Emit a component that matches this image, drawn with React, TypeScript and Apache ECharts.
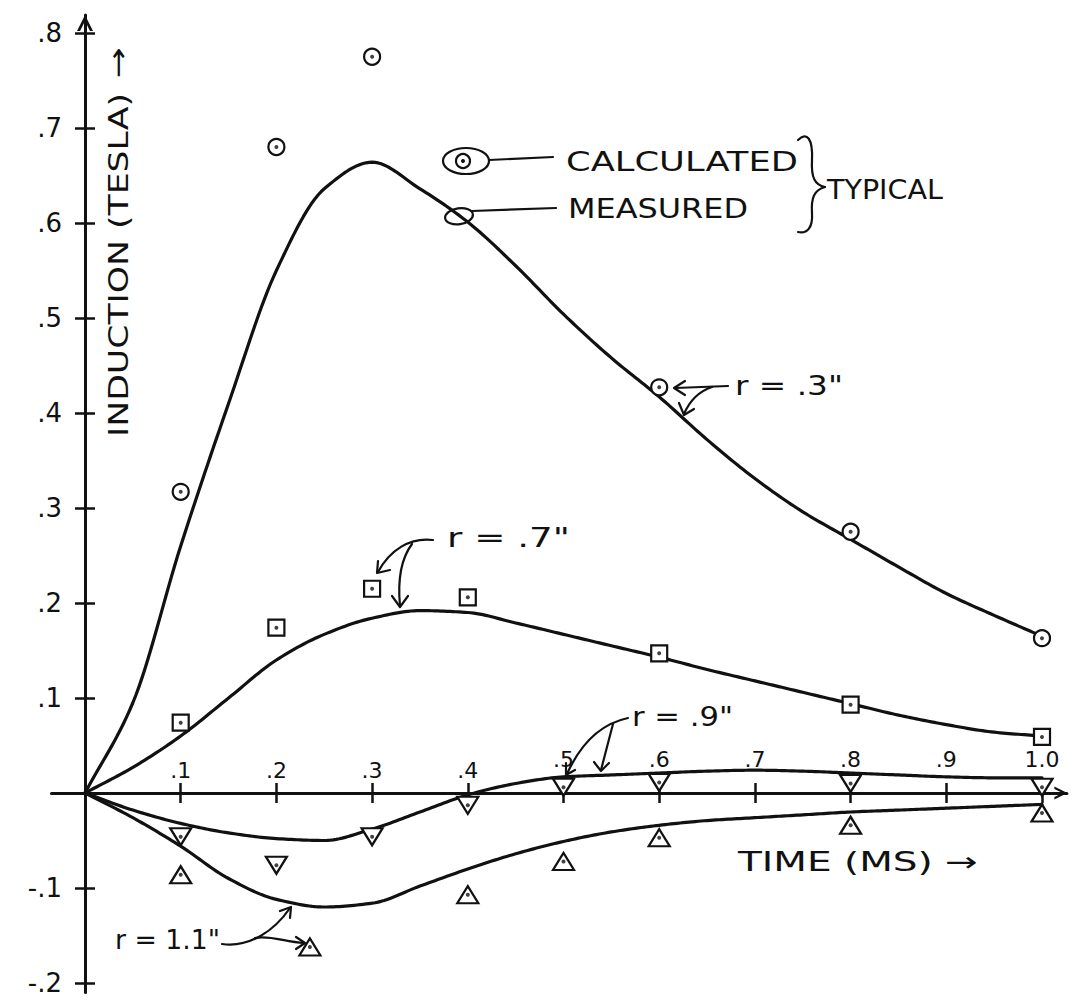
import React, { useEffect, useRef } from "react";
import * as echarts from "echarts";

// ---------- data ----------
const xTickValues = [0.1, 0.2, 0.3, 0.4, 0.5, 0.6, 0.7, 0.8, 0.9, 1.0];
const yTickValues = [-0.2, -0.1, 0.1, 0.2, 0.3, 0.4, 0.5, 0.6, 0.7, 0.8];

// measured curves (time ms, induction tesla), read every 0.05 ms
const measuredR03 = [
  [0, 0], [0.05, 0.095], [0.1, 0.26], [0.15, 0.41], [0.2, 0.55], [0.25, 0.636],
  [0.3, 0.664], [0.35, 0.636], [0.4, 0.601], [0.45, 0.555], [0.5, 0.504], [0.55, 0.458],
  [0.6, 0.417], [0.65, 0.372], [0.7, 0.331], [0.75, 0.296], [0.8, 0.267], [0.85, 0.238],
  [0.9, 0.21], [0.95, 0.187], [1.0, 0.165],
];
const measuredR07 = [
  [0, 0], [0.05, 0.027], [0.1, 0.06], [0.15, 0.1], [0.2, 0.14], [0.25, 0.167],
  [0.3, 0.184], [0.35, 0.192], [0.4, 0.19], [0.45, 0.179], [0.5, 0.167], [0.55, 0.155],
  [0.6, 0.143], [0.65, 0.13], [0.7, 0.118], [0.75, 0.106], [0.8, 0.094], [0.85, 0.082],
  [0.9, 0.072], [0.95, 0.064], [1.0, 0.06],
];
const measuredR09 = [
  [0, 0], [0.05, -0.018], [0.1, -0.032], [0.15, -0.042], [0.2, -0.048], [0.25, -0.05],
  [0.3, -0.038], [0.35, -0.02], [0.4, -0.002], [0.45, 0.01], [0.5, 0.017], [0.55, 0.019],
  [0.6, 0.021], [0.65, 0.023], [0.7, 0.024], [0.75, 0.023], [0.8, 0.021], [0.85, 0.019],
  [0.9, 0.017], [0.95, 0.016], [1.0, 0.016],
];
const measuredR11 = [
  [0, 0], [0.05, -0.026], [0.1, -0.056], [0.15, -0.09], [0.2, -0.112], [0.25, -0.12],
  [0.3, -0.116], [0.35, -0.098], [0.4, -0.08], [0.45, -0.064], [0.5, -0.051], [0.55, -0.041],
  [0.6, -0.034], [0.65, -0.029], [0.7, -0.026], [0.75, -0.023], [0.8, -0.02], [0.85, -0.018],
  [0.9, -0.016], [0.95, -0.014], [1.0, -0.012],
];

// calculated points
const calcR03 = [[0.1, 0.317], [0.2, 0.68], [0.3, 0.775], [0.6, 0.427], [0.8, 0.275], [1.0, 0.163]];
const calcR07 = [[0.1, 0.074], [0.2, 0.174], [0.3, 0.215], [0.4, 0.206], [0.6, 0.147], [0.8, 0.093], [1.0, 0.059]];
const calcR09 = [[0.1, -0.046], [0.2, -0.076], [0.3, -0.046], [0.4, -0.013], [0.5, 0.006], [0.6, 0.011], [0.8, 0.01], [1.0, 0.006]];
const calcR11 = [[0.1, -0.086], [0.235, -0.162], [0.4, -0.107], [0.5, -0.072], [0.6, -0.047], [0.8, -0.034], [1.0, -0.021]];

// ---------- layout ----------
const W = 1075;
const H = 1004;
const X0 = 85; // pixel of time 0
const XS = 957; // px per ms
const Y0 = 793; // pixel of induction 0
const YS = 950; // px per tesla
const X_MIN = -0.035;
const X_MAX = 1.026;
const Y_MIN = -0.21;
const Y_MAX = 0.819;
const gridLeft = X0 + X_MIN * XS;
const gridRight = W - (X0 + X_MAX * XS);
const gridTop = Y0 - Y_MAX * YS;
const gridBottom = H - (Y0 - Y_MIN * YS);

const FONT = "DejaVu Sans";
const INK = "#111";

const CHEVRON = "path://M0,20L10,0L20,20L16.2,20L10,7.5L3.8,20Z";

function fmtTick(v: number) {
  const s = Math.round(v * 10);
  if (s === 10) return "1.0";
  return (s < 0 ? "-" : "") + "." + Math.abs(s);
}

let measureCtx: CanvasRenderingContext2D | null = null;
function measure(text: string, size: number) {
  if (!measureCtx) measureCtx = document.createElement("canvas").getContext("2d");
  if (!measureCtx) return text.length * size * 0.6;
  measureCtx.font = `${size}px "${FONT}"`;
  return measureCtx.measureText(text).width;
}

function fitText(text: string, left: number, right: number, cy: number, size: number) {
  const w = measure(text, size);
  return {
    type: "text",
    x: left,
    y: cy,
    scaleX: (right - left) / w,
    silent: true,
    style: { text, fill: INK, fontSize: size, fontFamily: FONT, textAlign: "left", textVerticalAlign: "middle" },
  };
}

function fitTextUp(text: string, bottom: number, top: number, cx: number, size: number) {
  const w = measure(text, size);
  return {
    type: "text",
    x: cx,
    y: bottom,
    rotation: Math.PI / 2,
    scaleX: (bottom - top) / w,
    silent: true,
    style: { text, fill: INK, fontSize: size, fontFamily: FONT, textAlign: "left", textVerticalAlign: "middle" },
  };
}

const stroke = { stroke: INK, lineWidth: 2.2, fill: "none", lineCap: "round", lineJoin: "round" };

function line(x1: number, y1: number, x2: number, y2: number) {
  return { type: "line", silent: true, shape: { x1, y1, x2, y2 }, style: { ...stroke } };
}
function poly(points: number[][]) {
  return { type: "polyline", silent: true, shape: { points }, style: { ...stroke } };
}
function bez(x1: number, y1: number, cpx1: number, cpy1: number, cpx2: number, cpy2: number, x2: number, y2: number) {
  return { type: "bezierCurve", silent: true, shape: { x1, y1, cpx1, cpy1, cpx2, cpy2, x2, y2 }, style: { ...stroke } };
}

function buildGraphics() {
  const g: any[] = [];
  // axis titles
  g.push(fitTextUp("INDUCTION (TESLA)", 437, 93, 118, 27));
  g.push(fitTextUp("→", 78, 47, 118, 27));
  g.push(fitText("TIME (MS) →", 738, 978, 862, 27));

  // legend
  g.push({ type: "ellipse", silent: true, shape: { cx: 466, cy: 161, rx: 23, ry: 13 }, style: { ...stroke } });
  g.push({ type: "circle", silent: true, shape: { cx: 463, cy: 161, r: 7 }, style: { ...stroke } });
  g.push({ type: "circle", silent: true, shape: { cx: 463, cy: 161, r: 2 }, style: { fill: INK } });
  g.push(line(489, 160, 553, 157));
  g.push(fitText("CALCULATED", 566, 798, 162, 27));

  g.push({ type: "ellipse", silent: true, shape: { cx: 459, cy: 216, rx: 14, ry: 8 }, rotation: 0.15, originX: 459, originY: 216, style: { ...stroke } });
  g.push(line(472, 211, 556, 208));
  g.push(fitText("MEASURED", 568, 748, 209, 27));

  // brace
  g.push(bez(798, 140, 807, 131, 813, 139, 812, 160));
  g.push(bez(812, 160, 811, 178, 815, 185, 825, 187));
  g.push(bez(825, 187, 814, 190, 811, 198, 812, 213));
  g.push(bez(812, 213, 813, 228, 807, 234, 798, 232));
  g.push(fitText("TYPICAL", 827, 943, 190, 27));

  // r = .3"
  g.push(fitText('r = .3"', 735, 843, 386, 26));
  g.push(line(728, 386, 675, 388));
  g.push(poly([[685, 381], [674, 388], [685, 395]]));
  g.push(bez(712, 387, 700, 391, 690, 400, 684, 414));
  g.push(poly([[679, 403], [684, 415], [694, 409]]));

  // r = .7"
  g.push(fitText('r = .7"', 447, 570, 538, 26));
  g.push(bez(433, 540, 410, 537, 390, 550, 378, 572));
  g.push(poly([[378, 561], [377, 573], [390, 570]]));
  g.push(bez(412, 544, 400, 560, 398, 585, 400, 606));
  g.push(poly([[392, 596], [400, 607], [408, 596]]));

  // r = .9"
  g.push(fitText('r = .9"', 632, 733, 717, 26));
  g.push(bez(628, 718, 600, 724, 580, 745, 567, 774));
  g.push(poly([[566, 763], [566, 775], [575, 770]]));
  g.push(line(613, 724, 601, 770));
  g.push(poly([[594, 762], [601, 771], [609, 763]]));

  // r = 1.1"
  g.push(fitText('r = 1.1"', 115, 220, 940, 26));
  g.push(bez(222, 944, 250, 948, 275, 930, 290, 908));
  g.push(poly([[280, 911], [291, 907], [290, 918]]));
  g.push(bez(255, 938, 270, 935, 285, 942, 304, 943));
  g.push(poly([[296, 937], [305, 943], [296, 949]]));
  return g;
}

// monotone cubic (Fritsch-Carlson) rendering of a measured curve, sampled for drawing
function monotoneSample(pts: number[][], steps = 16) {
  const n = pts.length;
  const dx: number[] = [];
  const m: number[] = [];
  for (let i = 0; i < n - 1; i++) {
    dx[i] = pts[i + 1][0] - pts[i][0];
    m[i] = (pts[i + 1][1] - pts[i][1]) / dx[i];
  }
  const t: number[] = new Array(n);
  t[0] = m[0];
  t[n - 1] = m[n - 2];
  for (let i = 1; i < n - 1; i++) {
    if (m[i - 1] * m[i] <= 0) t[i] = 0;
    else {
      const w1 = 2 * dx[i] + dx[i - 1];
      const w2 = dx[i] + 2 * dx[i - 1];
      t[i] = (w1 + w2) / (w1 / m[i - 1] + w2 / m[i]);
    }
  }
  const out: number[][] = [];
  for (let i = 0; i < n - 1; i++) {
    const [x0, y0] = pts[i];
    const y1 = pts[i + 1][1];
    const h = dx[i];
    for (let s = 0; s < steps; s++) {
      const u = s / steps;
      const u2 = u * u;
      const u3 = u2 * u;
      const h00 = 2 * u3 - 3 * u2 + 1;
      const h10 = u3 - 2 * u2 + u;
      const h01 = -2 * u3 + 3 * u2;
      const h11 = u3 - u2;
      out.push([x0 + u * h, h00 * y0 + h10 * h * t[i] + h01 * y1 + h11 * h * t[i + 1]]);
    }
  }
  out.push(pts[n - 1]);
  return out;
}

function curveSeries(data: number[][]) {
  return {
    type: "custom",
    data,
    encode: { x: 0, y: 1 },
    z: 3,
    silent: true,
    clip: false,
    renderItem: (params: any, api: any) => {
      if (params.dataIndex !== 0) return null;
      const points = monotoneSample(data).map((p) => api.coord(p));
      return {
        type: "polyline",
        shape: { points },
        style: { stroke: INK, lineWidth: 3.2, fill: "none", lineJoin: "round", lineCap: "round" },
      };
    },
  };
}

function markerSeries(data: number[][], symbol: string, size: any, rotate = 0) {
  return {
    type: "scatter",
    data,
    symbol,
    symbolSize: size,
    symbolRotate: rotate,
    itemStyle: { color: "#fff", borderColor: INK, borderWidth: 2.2, opacity: 1 },
    z: 5,
    silent: true,
  };
}

export default function App() {
  const ref = useRef<HTMLDivElement>(null);
  useEffect(() => {
    if (!ref.current) return;
    const chart = echarts.init(ref.current, undefined, { renderer: "svg" });
    const allMarkers = [...calcR03, ...calcR07, ...calcR09, ...calcR11];
    const tickStyle = { show: true, length: 10, lineStyle: { color: INK, width: 2.5 }, customValues: xTickValues };
    const yTickStyle = { show: true, length: 10, lineStyle: { color: INK, width: 2.5 }, customValues: yTickValues };
    const xLabelText = { fontSize: 22, fontFamily: FONT, color: INK };
    chart.setOption({
      animation: false,
      backgroundColor: "#fff",
      grid: {
        left: gridLeft,
        right: gridRight,
        top: gridTop,
        bottom: gridBottom,
        containLabel: false,
        outerBoundsMode: "none",
      },
      xAxis: [
        {
          type: "value",
          min: X_MIN,
          max: X_MAX,
          position: "bottom",
          offset: Y_MIN * YS,
          axisLine: {
            show: true,
            onZero: false,
            lineStyle: { color: INK, width: 3 },
            symbol: ["none", CHEVRON],
            symbolSize: [14, 13],
            symbolOffset: [0, -6],
          },
          axisTick: tickStyle,
          axisLabel: { show: false },
          splitLine: { show: false },
        },
        {
          type: "value",
          min: X_MIN,
          max: X_MAX,
          position: "top",
          offset: -Y_MAX * YS,
          axisLine: { show: false, onZero: false },
          axisTick: tickStyle,
          axisLabel: {
            show: true,
            margin: 12,
            color: INK,
            fontSize: 22,
            fontFamily: FONT,
            formatter: (v: number) => `{${v > 0.45 ? "hi" : "lo"}|${fmtTick(v)}}`,
            rich: {
              lo: { ...xLabelText },
              hi: { ...xLabelText, padding: [0, 0, 11, 0] },
            },
            customValues: xTickValues,
          },
          splitLine: { show: false },
        },
      ],
      yAxis: [
        {
          type: "value",
          min: Y_MIN,
          max: Y_MAX,
          position: "left",
          offset: X_MIN * XS,
          axisLine: {
            show: true,
            onZero: false,
            lineStyle: { color: INK, width: 3 },
            symbol: ["none", CHEVRON],
            symbolSize: [18, 16],
            symbolOffset: [0, -8],
          },
          axisTick: yTickStyle,
          axisLabel: {
            show: true,
            margin: 23,
            color: INK,
            fontSize: 26,
            fontFamily: FONT,
            formatter: fmtTick,
            customValues: yTickValues,
          },
          splitLine: { show: false },
        },
        {
          type: "value",
          min: Y_MIN,
          max: Y_MAX,
          position: "right",
          offset: -X_MAX * XS,
          axisLine: { show: false, onZero: false },
          axisTick: yTickStyle,
          axisLabel: { show: false },
          splitLine: { show: false },
        },
      ],
      series: [
        curveSeries(measuredR03),
        curveSeries(measuredR07),
        curveSeries(measuredR09),
        curveSeries(measuredR11),
        markerSeries(calcR03, "circle", 16),
        markerSeries(calcR07, "rect", 16),
        markerSeries(calcR09, "triangle", [21, 17], 180),
        markerSeries(calcR11, "triangle", [21, 17]),
        {
          type: "scatter",
          data: allMarkers,
          symbol: "circle",
          symbolSize: 4,
          itemStyle: { color: INK },
          z: 6,
          silent: true,
        },
      ],
      graphic: buildGraphics(),
    });
    return () => chart.dispose();
  }, []);
  return (
    <div
      ref={ref}
      style={{ position: "absolute", left: 0, top: 0, width: W, height: H, background: "#fff" }}
    />
  );
}
